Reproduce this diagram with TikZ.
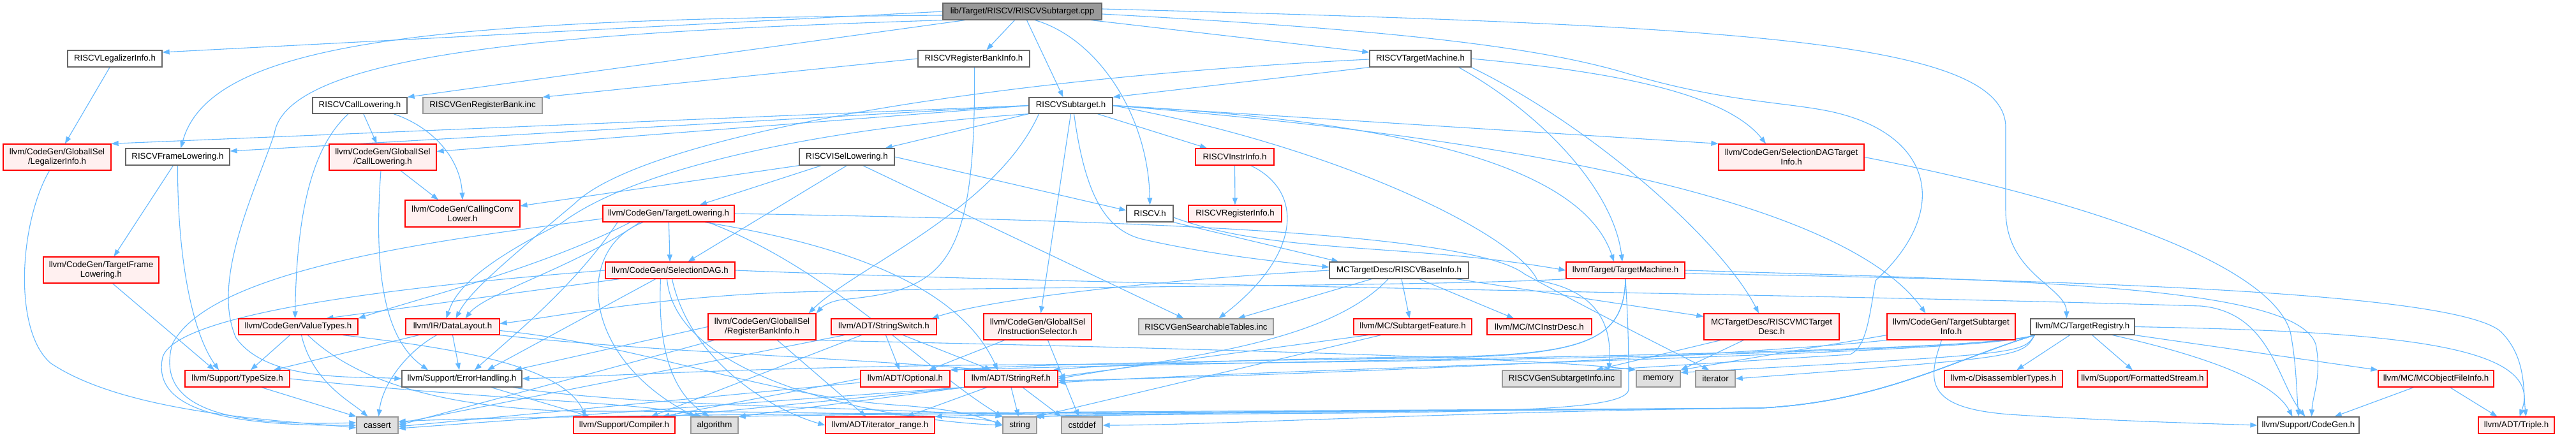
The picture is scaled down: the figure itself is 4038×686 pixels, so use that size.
\documentclass[tikz,border=0pt]{standalone}
\usepackage{fontspec}
\setmainfont{Liberation Sans}
\usetikzlibrary{arrows.meta}
\definecolor{edgeblue}{HTML}{63B8FF}
\definecolor{gfour}{HTML}{666666}
\definecolor{gsix}{HTML}{999999}
\definecolor{redb}{HTML}{FF0000}
\definecolor{pinkf}{HTML}{FFF0F0}
\definecolor{grayf}{HTML}{E0E0E0}
\definecolor{rootf}{HTML}{999999}
\pgfdeclarelayer{bgl}
\pgfdeclarelayer{edgel}
\pgfsetlayers{bgl,edgel,main}
\newcommand\mkbox[7]{\node[#2,minimum width={(#5-#3)*1pt},minimum height={(#6-#4)*1pt}] (#1) at ({(#3+#5)/2},{(#4+#6)/2}) {#7};}
\tikzset{
 bx/.style={rectangle, inner sep=0pt, align=center, line width=1.3pt, font=\fontsize{13.3}{15.3}\selectfont},
 wb/.style={bx, draw=gfour, fill=white},
 rb/.style={bx, draw=redb, fill=pinkf},
 gb/.style={bx, draw=gsix, fill=grayf},
 rootb/.style={bx, draw=gfour, fill=rootf},
 lnk/.style={draw=edgeblue, line width=1.1pt, -{Triangle[length=11pt,width=8pt]}},
}
\begin{document}
\begin{tikzpicture}[x=1pt,y=-1pt]
\useasboundingbox (0,0) rectangle (4038,686);
\begin{pgfonlayer}{bgl}
\fill[white] (0,0) rectangle (4038,686);
\end{pgfonlayer}
% nodes
\mkbox{cpp}{rootb}{1478}{5}{1727}{31}{lib/Target/RISCV/RISCVSubtarget.cpp}
\mkbox{legal}{wb}{106}{79}{254}{105}{RISCVLegalizerInfo.h}
\mkbox{rbinfo}{wb}{1439}{79}{1614}{105}{RISCVRegisterBankInfo.h}
\mkbox{tmh}{wb}{2147}{79}{2306}{105}{RISCVTargetMachine.h}
\mkbox{calllow}{wb}{490}{153}{638}{178}{RISCVCallLowering.h}
\mkbox{genrb}{gb}{663}{153}{850}{178}{RISCVGenRegisterBank.inc}
\mkbox{subh}{wb}{1613}{153}{1744}{178}{RISCVSubtarget.h}
\mkbox{gislegal}{rb}{5}{226}{174}{267}{llvm/CodeGen/GlobalISel\\/LegalizerInfo.h}
\mkbox{framelow}{wb}{197}{233}{360}{259}{RISCVFrameLowering.h}
\mkbox{giscall}{rb}{516}{226}{684}{267}{llvm/CodeGen/GlobalISel\\/CallLowering.h}
\mkbox{isel}{wb}{1253}{233}{1402}{259}{RISCVISelLowering.h}
\mkbox{instr}{rb}{1874}{233}{1997}{259}{RISCVInstrInfo.h}
\mkbox{sdagti}{rb}{2694}{226}{2922}{267}{llvm/CodeGen/SelectionDAGTarget\\Info.h}
\mkbox{ccl}{rb}{635}{314}{815}{356}{llvm/CodeGen/CallingConv\\Lower.h}
\mkbox{tlow}{rb}{945}{322}{1151}{348}{llvm/CodeGen/TargetLowering.h}
\mkbox{riscvh}{wb}{1766}{322}{1839}{348}{RISCV.h}
\mkbox{reginfo}{rb}{1863}{322}{2009}{348}{RISCVRegisterInfo.h}
\mkbox{tfl}{rb}{68}{403}{249}{444}{llvm/CodeGen/TargetFrame\\Lowering.h}
\mkbox{sdag}{rb}{949}{411}{1152}{437}{llvm/CodeGen/SelectionDAG.h}
\mkbox{base}{wb}{2084}{411}{2302}{437}{MCTargetDesc/RISCVBaseInfo.h}
\mkbox{tmach}{rb}{2455}{411}{2641}{437}{llvm/Target/TargetMachine.h}
\mkbox{vt}{rb}{374}{500}{561}{525}{llvm/CodeGen/ValueTypes.h}
\mkbox{dl}{rb}{636}{500}{783}{525}{llvm/IR/DataLayout.h}
\mkbox{gisrbi}{rb}{1110}{492}{1279}{533}{llvm/CodeGen/GlobalISel\\/RegisterBankInfo.h}
\mkbox{sswitch}{rb}{1303}{500}{1468}{525}{llvm/ADT/StringSwitch.h}
\mkbox{isel2}{rb}{1542}{492}{1711}{533}{llvm/CodeGen/GlobalISel\\/InstructionSelector.h}
\mkbox{gst}{gb}{1785}{500}{1996}{525}{RISCVGenSearchableTables.inc}
\mkbox{subfeat}{rb}{2122}{500}{2307}{525}{llvm/MC/SubtargetFeature.h}
\mkbox{mcid}{rb}{2331}{500}{2495}{525}{llvm/MC/MCInstrDesc.h}
\mkbox{mctd}{rb}{2671}{492}{2883}{533}{MCTargetDesc/RISCVMCTarget\\Desc.h}
\mkbox{tsi}{rb}{2958}{492}{3159}{533}{llvm/CodeGen/TargetSubtarget\\Info.h}
\mkbox{treg}{wb}{3183}{500}{3346}{525}{llvm/MC/TargetRegistry.h}
\mkbox{tsz}{rb}{290}{581}{454}{607}{llvm/Support/TypeSize.h}
\mkbox{errh}{wb}{630}{581}{818}{607}{llvm/Support/ErrorHandling.h}
\mkbox{opt}{rb}{1349}{581}{1489}{607}{llvm/ADT/Optional.h}
\mkbox{sref}{rb}{1512}{581}{1658}{607}{llvm/ADT/StringRef.h}
\mkbox{gsi}{gb}{2355}{581}{2541}{607}{RISCVGenSubtargetInfo.inc}
\mkbox{memory}{gb}{2565}{581}{2634}{607}{memory}
\mkbox{iterator}{gb}{2658}{581}{2720}{607}{iterator}
\mkbox{disasm}{rb}{3048}{581}{3233}{607}{llvm-c/DisassemblerTypes.h}
\mkbox{fmt}{rb}{3257}{581}{3460}{607}{llvm/Support/FormattedStream.h}
\mkbox{mcofi}{rb}{3728}{581}{3909}{607}{llvm/MC/MCObjectFileInfo.h}
\mkbox{cassert}{gb}{559}{654}{624}{680}{cassert}
\mkbox{compiler}{rb}{899}{654}{1058}{680}{llvm/Support/Compiler.h}
\mkbox{algorithm}{gb}{1083}{654}{1157}{680}{algorithm}
\mkbox{iterrange}{rb}{1294}{654}{1465}{680}{llvm/ADT/iterator\_range.h}
\mkbox{string}{gb}{1572}{654}{1625}{680}{string}
\mkbox{cstddef}{gb}{1664}{654}{1728}{680}{cstddef}
\mkbox{codegen}{wb}{3539}{654}{3698}{680}{llvm/Support/CodeGen.h}
\mkbox{triple}{rb}{3885}{654}{4004}{680}{llvm/ADT/Triple.h}
\begin{pgfonlayer}{edgel}
% root
\draw[lnk] (cpp.west) -- ([yshift=10pt]legal.east);
\draw[lnk] ([yshift=-6pt]cpp.west) .. controls (700,30) and (330,60) .. ([xshift=5pt]framelow.north);
\draw[lnk] (cpp.south west) .. controls (900,50) and (450,80) .. (430,210) .. controls (400,300) and (330,440) .. (370,530) .. controls (420,600) and (560,590) .. (errh.west);
\draw[lnk] ([xshift=35pt]cpp.south west) -- (calllow.north east);
\draw[lnk] ([xshift=-12pt]cpp.south) -- ([xshift=20pt]rbinfo.north);
\draw[lnk] ([xshift=7pt]cpp.south) -- ([xshift=-12pt]subh.north);
\draw[lnk] ([xshift=20pt]cpp.south) .. controls (1720,60) and (1800,180) .. (riscvh.north);
\draw[lnk] ([xshift=-17pt]cpp.south east) -- ([yshift=10pt]tmh.west);
\draw[lnk] ([yshift=4pt]cpp.east) .. controls (2700,40) and (3144,60) .. (3144,200) -- (3144,330) .. controls (3144,430) and (3239,450) .. ([xshift=-25pt]treg.north);
\draw[lnk] ([yshift=-4pt]cpp.east) .. controls (2150,45) and (2400,70) .. (2550,115) .. controls (2700,160) and (2800,160) .. (2870,175) .. controls (3030,210) and (3060,330) .. (2940,440) .. controls (2930,500) and (2925,545) .. (2900,556) -- ([xshift=-30pt]gsi.north east);
% first rank
\draw[lnk] (legal) -- (gislegal);
\draw[lnk] (rbinfo.west) -- (genrb.north east);
\draw[lnk] ([xshift=1pt]rbinfo.south) .. controls (1530,420) and (1480,455) .. (1320,470) .. controls (1300,473) and (1290,480) .. (gisrbi.north east);
\draw[lnk] (tmh.south west) -- (subh.north east);
\draw[lnk] ([yshift=-1pt]tmh.west) .. controls (1500,125) and (1000,220) .. (900,320) .. controls (780,420) and (735,460) .. ([xshift=5pt]dl.north);
\draw[lnk] ([xshift=-20pt]tmh.south east) .. controls (2420,180) and (2530,300) .. ([xshift=-5pt]tmach.north);
\draw[lnk] (tmh.south east) .. controls (2500,200) and (2700,380) .. ([xshift=-20pt]mctd.north);
\draw[lnk] (tmh.east) .. controls (2500,110) and (2700,140) .. ([xshift=-40pt]sdagti.north);
% RISCVSubtarget.h
\draw[lnk] (subh.west) -- (gislegal.north east);
\draw[lnk] (subh.west) -- ([yshift=9pt]framelow.east);
\draw[lnk] (subh.west) -- ([yshift=9pt]giscall.east);
\draw[lnk] (subh.south west) -- ([xshift=-15pt]isel.north east);
\draw[lnk] (subh.south west) .. controls (1300,200) and (1000,260) .. (880,350) .. controls (740,420) and (713,460) .. ([xshift=-10pt]dl.north);
\draw[lnk] ([xshift=5pt]subh.south) .. controls (1700,300) and (1730,360) .. (1790,375) .. controls (1900,400) and (2000,410) .. ([yshift=5pt]base.west);
\draw[lnk] (subh) -- (instr);
\draw[lnk] (subh.south) -- ([xshift=5pt]isel2.north);
\draw[lnk] ([xshift=-50pt]subh.south) .. controls (1560,330) and (1340,420) .. ([xshift=-12pt]gisrbi.north east);
\draw[lnk] (subh.east) -- (sdagti.north west);
\draw[lnk] (subh.east) .. controls (2300,210) and (2880,300) .. ([xshift=-40pt]tsi.north);
\draw[lnk] (subh.east) .. controls (2200,190) and (2480,260) .. ([xshift=-18pt]tmach.north);
\draw[lnk] (subh.east) .. controls (2100,230) and (2380,370) .. (2410,440) .. controls (2470,450) and (2530,480) .. ([xshift=-20pt]gsi.north east);
% CallLowering etc
\draw[lnk] (calllow) -- (giscall);
\draw[lnk] ([xshift=53pt]calllow.south) .. controls (680,200) and (722,250) .. (ccl.north);
\draw[lnk] ([xshift=-18pt]calllow.south) .. controls (490,230) and (465,330) .. ([xshift=-5pt]vt.north);
\draw[lnk] ([xshift=28pt]giscall.south) -- ([xshift=-38pt]ccl.north);
\draw[lnk] ([xshift=-3pt]giscall.south) .. controls (586,420) and (600,530) .. ([xshift=-53pt]errh.north);
\draw[lnk] ([xshift=-12pt]gislegal.south) .. controls (30,350) and (20,520) .. (80,570) .. controls (200,650) and (450,660) .. ([yshift=-4pt]cassert.west);
\draw[lnk] ([xshift=-7pt]framelow.south) -- ([xshift=20pt]tfl.north);
\draw[lnk] (framelow.south) .. controls (278,400) and (300,520) .. ([xshift=-29pt]tsz.north);
\draw[lnk] ([xshift=18pt]tfl.south) -- ([xshift=-36pt]tsz.north);
% ISelLowering
\draw[lnk] (isel.south west) -- ([yshift=12pt]ccl.east);
\draw[lnk] ([xshift=-40pt]isel.south) -- ([xshift=49pt]tlow.north);
\draw[lnk] (isel.south) -- ([xshift=28pt]sdag.north);
\draw[lnk] ([xshift=25pt]isel.south) -- ([xshift=-35pt]gst.north);
\draw[lnk] (isel.east) -- ([yshift=5pt]riscvh.west);
% InstrInfo, RISCV.h
\draw[lnk] (instr) -- (reginfo);
\draw[lnk] ([xshift=25pt]instr.south) .. controls (2045,300) and (2040,400) .. ([xshift=20pt]gst.north);
\draw[lnk] (riscvh.south east) -- ([xshift=15pt]base.north west);
\draw[lnk] ([yshift=-6pt]riscvh.east) .. controls (2000,400) and (2200,380) .. (tmach.west);
% BaseInfo
\draw[lnk] (base) -- (mctd);
\draw[lnk] ([xshift=-17pt]base.south) .. controls (2080,540) and (1850,560) .. (sref.east);
\draw[lnk] (base.west) .. controls (1800,440) and (1550,470) .. ([xshift=-8pt]sswitch.north east);
\draw[lnk] ([xshift=32pt]base.south) -- ([xshift=-40pt]mcid.north);
\draw[lnk] ([xshift=4pt]base.south) -- ([xshift=-5pt]subfeat.north);
\draw[lnk] ([xshift=-43pt]base.south) -- ([xshift=50pt]gst.north);
% TargetLowering
\draw[lnk] (tlow) -- (sdag);
\draw[lnk] ([xshift=-60pt]tlow.south) .. controls (850,420) and (650,470) .. (vt.north east);
\draw[lnk] ([xshift=-45pt]tlow.south) .. controls (900,420) and (760,460) .. ([xshift=20pt]dl.north);
\draw[lnk] ([xshift=-80pt]tlow.south) .. controls (900,450) and (800,530) .. ([xshift=20pt]errh.north);
\draw[lnk] ([yshift=-8pt]tlow.west) .. controls (700,375) and (330,420) .. (270,540) .. controls (240,650) and (380,668) .. ([yshift=4pt]cassert.west);
\draw[lnk] ([xshift=-40pt]tlow.south) .. controls (900,390) and (910,560) .. ([xshift=-30pt]algorithm.north);
\draw[lnk] (tlow.east) .. controls (1700,345) and (2300,360) .. (2390,430) .. controls (2500,490) and (2600,540) .. ([xshift=-10pt]iterator.north);
\draw[lnk] ([xshift=57pt]tlow.south) .. controls (1300,380) and (1500,440) .. ([xshift=-21pt]sref.north);
\draw[lnk] ([xshift=62pt]tlow.south) .. controls (1300,420) and (1450,580) .. (string.north west);
% SelectionDAG
\draw[lnk] (sdag.west) .. controls (750,440) and (280,480) .. (255,560) .. controls (235,650) and (380,668) .. (cassert.west);
\draw[lnk] ([xshift=-80pt]sdag.south) -- ([xshift=44pt]vt.north);
\draw[lnk] ([xshift=-23pt]sdag.south) -- ([xshift=40pt]errh.north);
\draw[lnk] ([xshift=3pt]sdag.south) .. controls (1080,560) and (1200,640) .. (iterrange.west);
\draw[lnk] ([xshift=-5pt]sdag.south) .. controls (1060,600) and (1400,660) .. (string.west);
\draw[lnk] ([xshift=-15pt]sdag.south) .. controls (1030,560) and (1060,620) .. ([xshift=-8pt]algorithm.north);
\draw[lnk] (sdag.east) .. controls (1800,450) and (2800,460) .. (3450,480) .. controls (3560,490) and (3570,600) .. ([xshift=-5pt]codegen.north);
% ValueTypes, DataLayout
\draw[lnk] ([xshift=-13pt]vt.south) -- ([xshift=21pt]tsz.north);
\draw[lnk] ([xshift=5pt]vt.south) .. controls (490,600) and (550,630) .. ([xshift=-15pt]cassert.north);
\draw[lnk] ([xshift=15pt]vt.south) .. controls (560,600) and (700,640) .. (900,645) .. controls (1300,645) and (1540,652) .. (string.west);
\draw[lnk] ([xshift=70pt]vt.south) .. controls (700,545) and (880,570) .. ([xshift=-60pt]compiler.north);
\draw[lnk] ([xshift=-53pt]dl.south) -- ([xshift=57pt]tsz.north);
\draw[lnk] ([xshift=-25pt]dl.south) .. controls (640,550) and (600,600) .. ([xshift=2pt]cassert.north);
\draw[lnk] (dl.south) -- ([xshift=-4pt]errh.north);
\draw[lnk] (dl.south east) .. controls (1000,550) and (1300,560) .. ([xshift=-35pt]sref.north);
\draw[lnk] ([yshift=-6pt]dl.east) .. controls (1000,540) and (1200,620) .. (1400,635) .. controls (1480,640) and (1530,650) .. (string.west);
% GlobalISel RegisterBankInfo, StringSwitch, InstructionSelector
\draw[lnk] (gisrbi.west) -- ([xshift=-12pt]errh.north east);
\draw[lnk] ([xshift=10pt]gisrbi.south west) -- (cassert.east);
\draw[lnk] ([xshift=24pt]gisrbi.south) -- ([xshift=-22pt]iterrange.north);
\draw[lnk] (gisrbi.south east) .. controls (1800,545) and (2400,560) .. (memory.north west);
\draw[lnk] ([xshift=3pt]sswitch.south) -- ([xshift=-9pt]opt.north);
\draw[lnk] ([xshift=30pt]sswitch.south) -- ([xshift=-31pt]sref.north);
\draw[lnk] ([xshift=-35pt]sswitch.south) -- ([xshift=42pt]compiler.north);
\draw[lnk] ([xshift=-62pt]sswitch.south) -- ([yshift=3pt]cassert.east);
\draw[lnk] ([xshift=-52pt]isel2.south) -- ([xshift=37pt]opt.north);
\draw[lnk] ([xshift=16pt]isel2.south) -- ([xshift=-5pt]cstddef.north);
% Optional, StringRef, ErrorHandling, TypeSize
\draw[lnk] (opt.west) -- ([xshift=60pt]compiler.north);
\draw[lnk] ([yshift=-6pt]opt.west) -- ([yshift=-2pt]cassert.east);
\draw[lnk] ([xshift=-38pt]sref.south) -- ([xshift=42pt]iterrange.north);
\draw[lnk] (sref.south) -- ([xshift=-2pt]string.north);
\draw[lnk] ([xshift=18pt]sref.south) -- (cstddef.north west);
\draw[lnk] (sref.south west) -- (algorithm.north east);
\draw[lnk] (sref.south west) -- ([xshift=70pt]compiler.north);
\draw[lnk] ([xshift=-3pt]sref.south west) -- ([yshift=-5pt]cassert.east);
\draw[lnk] ([xshift=46pt]errh.south) -- ([xshift=-54pt]compiler.north);
\draw[lnk] ([xshift=80pt]errh.south) .. controls (1000,640) and (1450,640) .. (string.north west);
\draw[lnk] ([xshift=38pt]tsz.south) -- (cassert.north west);
\draw[lnk] (tsz.east) .. controls (800,630) and (1000,630) .. ([xshift=-20pt]algorithm.north);
% SubtargetFeature, MCTargetDesc, TargetSubtargetInfo
\draw[lnk] ([xshift=-70pt]subfeat.south) -- ([yshift=3pt]sref.east);
\draw[lnk] ([xshift=-50pt]subfeat.south) -- (string.north east);
\draw[lnk] ([xshift=-80pt]mctd.south) -- ([xshift=-40pt]gsi.north east);
\draw[lnk] ([xshift=-44pt]mctd.south) -- (memory.north east);
\draw[lnk] ([yshift=8pt]tsi.south west) -- (memory.north east);
\draw[lnk] (tsi.south west) .. controls (2700,560) and (2000,590) .. ([yshift=-3pt]sref.east);
\draw[lnk] ([xshift=-15pt]tsi.south) .. controls (3020,600) and (3020,640) .. (3150,650) .. controls (3300,660) and (3450,664) .. (codegen.west);
% TargetRegistry
\draw[lnk] (treg) -- (disasm);
\draw[lnk] (treg) -- (fmt);
\draw[lnk] (treg.south east) -- (mcofi.north west);
\draw[lnk] ([xshift=47pt]treg.south) .. controls (3420,550) and (3560,590) .. ([xshift=-25pt]codegen.north);
\draw[lnk] (treg.east) .. controls (3750,520) and (3990,540) .. ([xshift=5pt]triple.north);
\draw[lnk] ([xshift=7pt]treg.south west) .. controls (3120,555) and (2200,570) .. ([yshift=-6pt]sref.east);
\draw[lnk] ([xshift=7pt]treg.south west) .. controls (3120,555) and (2000,565) .. (opt.north east);
\draw[lnk] ([xshift=7pt]treg.south west) .. controls (3110,550) and (2400,568) .. (1600,572) .. controls (1200,575) and (950,590) .. (errh.east);
\draw[lnk] ([xshift=7pt]treg.south west) .. controls (3170,560) .. (iterator.east);
\draw[lnk] ([xshift=7pt]treg.south west) .. controls (3170,555) .. ([yshift=-4pt]memory.north east);
\draw[lnk] ([xshift=7pt]treg.south west) .. controls (3060,565) and (2950,630) .. (2760,640) .. controls (2300,645) and (1900,667) .. (cstddef.east);
\draw[lnk] ([xshift=7pt]treg.south west) .. controls (3060,565) and (2950,630) .. (2760,640) .. controls (2300,645) and (1750,648) .. (string.north east);
\draw[lnk] ([xshift=7pt]treg.south west) .. controls (3060,565) and (2950,630) .. (2760,640) .. controls (2200,645) and (1600,648) .. (iterrange.north east);
\draw[lnk] ([xshift=7pt]treg.south west) .. controls (3060,565) and (2950,630) .. (2760,640) .. controls (2200,645) and (1400,648) .. (algorithm.north east);
\draw[lnk] ([xshift=7pt]treg.south west) .. controls (3060,565) and (2950,630) .. (2760,640) .. controls (2000,645) and (900,648) .. ([yshift=6pt]cassert.east);
% TargetMachine
\draw[lnk] ([yshift=-5pt]tmach.east) .. controls (3300,440) and (3850,460) .. (3920,520) .. controls (3960,560) and (3955,610) .. ([xshift=15pt]triple.north);
\draw[lnk] (tmach.east) .. controls (3200,440) and (3600,450) .. (3630,540) .. controls (3640,590) and (3625,620) .. ([xshift=5pt]codegen.north);
\draw[lnk] (tmach.south west) .. controls (2250,450) and (1400,450) .. (1200,460) .. controls (1000,470) and (850,500) .. ([yshift=5pt]dl.east);
\draw[lnk] (tmach.south) .. controls (2545,540) and (2480,560) .. (2200,560) .. controls (1900,565) and (1700,575) .. ([xshift=-8pt]sref.north east);
\draw[lnk] (tmach.south) .. controls (2545,540) and (2480,560) .. (2200,562) .. controls (1900,566) and (1600,572) .. (opt.north east);
\draw[lnk] (tmach.south) .. controls (2553,520) and (2553,560) .. (2553,610) .. controls (2553,640) and (2400,645) .. (2100,648) .. controls (1800,650) and (1700,652) .. ([xshift=-5pt]string.north east);
% SelectionDAGTargetInfo, MCObjectFileInfo
\draw[lnk] (sdagti.east) .. controls (3300,320) and (3560,420) .. (3590,520) .. controls (3600,570) and (3600,620) .. ([xshift=-15pt]codegen.north);
\draw[lnk] ([xshift=-35pt]mcofi.south) -- ([xshift=41pt]codegen.north);
\draw[lnk] ([xshift=22pt]mcofi.south) -- ([xshift=-30pt]triple.north);
\end{pgfonlayer}
\end{tikzpicture}
\end{document}
